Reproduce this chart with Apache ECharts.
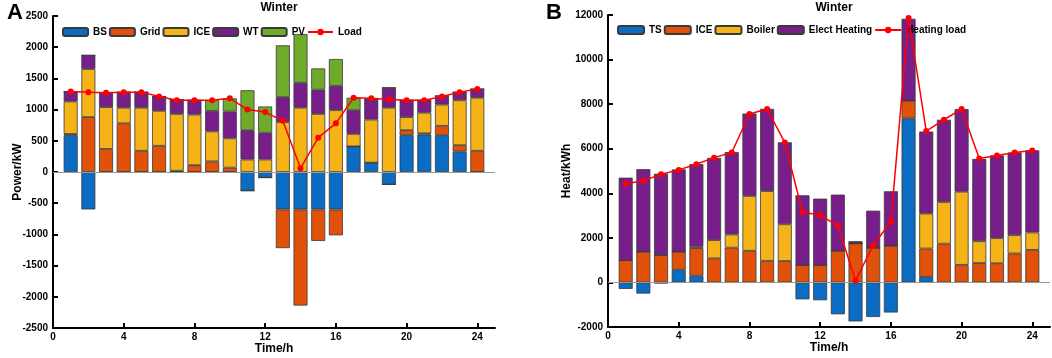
<!DOCTYPE html>
<html>
<head>
<meta charset="utf-8">
<script src="https://cdn.jsdelivr.net/npm/echarts@6/dist/echarts.min.js"></script>
<style>
  html, body { margin: 0; padding: 0; background: #fff; }
  #chart { width: 1052px; height: 358px; }
</style>
</head>
<body>
<div id="chart"></div>
<script>
// hours 1..24; the time axis runs 0..25
const hourSlots = ['0', '1', '2', '3', '4', '5', '6', '7', '8', '9', '10', '11', '12', '13', '14', '15', '16', '17', '18', '19', '20', '21', '22', '23', '24', '25']
const xTicks = ['0', '4', '8', '12', '16', '20', '24']

// A: power balance (kW), hours 1..24
const bsPower = [590, -600, 0, 0, 0, 0, 0, 0, 0, 0, -300, -90, -600, -600, -600, -600, 410, 150, -200, 590, 600, 590, 330, 0]
const gridPower = [20, 880, 370, 780, 340, 420, 20, 110, 170, 70, 0, 0, -620, -1540, -505, -415, 0, 0, 0, 80, 20, 150, 100, 340]
const icePower = [520, 770, 670, 250, 690, 560, 910, 810, 480, 470, 200, 200, 800, 1030, 930, 990, 200, 690, 1030, 210, 330, 340, 720, 850]
const wtPower = [160, 220, 230, 250, 250, 230, 230, 230, 330, 430, 470, 430, 400, 400, 390, 390, 380, 330, 320, 270, 200, 140, 130, 140]
const pvPower = [0, 0, 0, 0, 0, 0, 0, 0, 170, 210, 640, 420, 830, 780, 340, 430, 200, 0, 0, 0, 0, 0, 0, 0]
const loadPower = [1290, 1280, 1270, 1280, 1280, 1210, 1150, 1150, 1150, 1180, 1000, 960, 820, 60, 550, 780, 1190, 1180, 1160, 1150, 1150, 1210, 1280, 1330]

// B: heat balance (kWh), hours 1..24
const tsHeat = [-290, -500, -50, 570, 300, 0, 0, 0, 0, 0, -760, -800, -1430, -1750, -1550, -1350, 7360, 250, 0, 0, 0, 0, 0, 0]
const iceHeat = [1000, 1380, 1230, 810, 1240, 1080, 1560, 1420, 970, 960, 780, 780, 1420, 1750, 1550, 1650, 800, 1270, 1740, 790, 870, 860, 1300, 1460]
const boilerHeat = [0, 0, 0, 0, 60, 820, 590, 2460, 3130, 1650, 0, 0, 0, 0, 0, 0, 0, 1570, 1870, 3280, 980, 1130, 820, 780]
const ehHeat = [3700, 3700, 3650, 3690, 3710, 3690, 3700, 3700, 3690, 3680, 3130, 2980, 2520, 100, 1670, 2440, 3670, 3680, 3690, 3710, 3690, 3710, 3710, 3690]
const loadHeat = [4430, 4560, 4850, 5050, 5300, 5600, 5830, 7560, 7780, 6280, 3160, 3010, 2550, 80, 1670, 2720, 11860, 6790, 7300, 7780, 5560, 5700, 5830, 5920]

const C = {
    blue: '#0B6CC4',
    orange: '#E2510A',
    yellow: '#F5B318',
    purple: '#781E8A',
    green: '#6FAA2A',
    red: '#FF0000'
}

const FONT = 'Liberation Sans, Arial'

// slot 0 and slot 25 stay empty
const pad = (arr) => [null].concat(arr, [null])

const axisFont = { color: '#000', fontWeight: 'bold', fontSize: 10, fontFamily: FONT }
const showTick = (i, v) => xTicks.includes(v)

const makeX = (gridIndex) => ({
    type: 'category',
    gridIndex,
    data: hourSlots,
    boundaryGap: false,
    name: 'Time/h',
    nameLocation: 'middle',
    nameGap: 15,
    nameMoveOverlap: false,
    nameTextStyle: Object.assign({}, axisFont, { fontSize: 12 }),
    axisLine: { onZero: false, lineStyle: { color: '#000', width: 2 } },
    axisTick: { show: true, inside: true, length: 5, interval: showTick, lineStyle: { color: '#000', width: 2 } },
    axisLabel: Object.assign({}, axisFont, { margin: 4, interval: showTick }),
    splitLine: { show: false }
})

const makeY = (gridIndex, min, max, interval, name, gap) => ({
    type: 'value',
    gridIndex,
    min, max, interval,
    name,
    nameLocation: 'middle',
    nameGap: gap,
    nameMoveOverlap: false,
    nameTextStyle: Object.assign({}, axisFont, { fontSize: 12 }),
    axisLine: { show: true, lineStyle: { color: '#000', width: 2 } },
    axisTick: { show: true, inside: true, length: 5, lineStyle: { color: '#000', width: 2 } },
    axisLabel: Object.assign({}, axisFont, { margin: 5, formatter: (v) => String(v) }),
    splitLine: { show: false }
})

const barSeries = (name, data, color, idx, stack) => ({
    name,
    type: 'bar',
    xAxisIndex: idx,
    yAxisIndex: idx,
    stack,
    barWidth: 14,
    data: pad(data),
    itemStyle: { color, borderColor: '#3a3a3a', borderWidth: 0.8 },
    emphasis: { disabled: true }
})

const lineSeries = (name, data, idx) => ({
    name,
    type: 'line',
    xAxisIndex: idx,
    yAxisIndex: idx,
    data: pad(data),
    symbol: 'circle',
    symbolSize: 6,
    lineStyle: { color: C.red, width: 1.5 },
    itemStyle: { color: C.red },
    z: 5
})

const zeroLine = {
    silent: true,
    symbol: 'none',
    label: { show: false },
    lineStyle: { color: '#999', width: 1, type: 'solid' },
    data: [{ yAxis: 0 }]
}

const chart = echarts.init(document.getElementById('chart'))

const seriesA = [
    barSeries('BS', bsPower, C.blue, 0, 'a'),
    barSeries('Grid', gridPower, C.orange, 0, 'a'),
    barSeries('ICE', icePower, C.yellow, 0, 'a'),
    barSeries('WT', wtPower, C.purple, 0, 'a'),
    barSeries('PV', pvPower, C.green, 0, 'a'),
    lineSeries('Load', loadPower, 0)
]
seriesA[0].markLine = zeroLine

const seriesB = [
    barSeries('TS', tsHeat, C.blue, 1, 'b'),
    barSeries('ICE ', iceHeat, C.orange, 1, 'b'),
    barSeries('Boiler', boilerHeat, C.yellow, 1, 'b'),
    barSeries('Elect Heating', ehHeat, C.purple, 1, 'b'),
    lineSeries('Heating load', loadHeat, 1)
]
seriesB[0].markLine = zeroLine

const legendText = { color: '#000', fontWeight: 'bold', fontSize: 10, fontFamily: FONT }
const bigLetter = { fontSize: 22, fontWeight: 'bold', color: '#000', fontFamily: FONT }
const winter = { fontSize: 12, fontWeight: 'bold', color: '#000', fontFamily: FONT }

chart.setOption({
    animation: false,
    title: [
        { text: 'A', left: 2, top: -3, textStyle: bigLetter },
        { text: 'B', left: 541, top: -3, textStyle: bigLetter },
        { text: 'Winter', left: 274, top: -3, textAlign: 'center', textStyle: winter },
        { text: 'Winter', left: 829, top: -3, textAlign: 'center', textStyle: winter }
    ],
    legend: [
        {
            left: 62, top: 27, padding: 0,
            itemWidth: 25, itemHeight: 8, itemGap: 2,
            textStyle: legendText,
            data: ['BS', 'Grid', 'ICE', 'WT', 'PV', 'Load']
        },
        {
            left: 617, top: 25, padding: 0,
            itemWidth: 26, itemHeight: 8, itemGap: 2,
            textStyle: legendText,
            formatter: (n) => n.trim(),
            data: ['TS', 'ICE ', 'Boiler', 'Elect Heating', 'Heating load']
        }
    ],
    grid: [
        { left: 53, width: 442, top: 16, height: 312, outerBoundsMode: 'none' },
        { left: 608, width: 442, top: 15, height: 312, outerBoundsMode: 'none' }
    ],
    xAxis: [makeX(0), makeX(1)],
    yAxis: [
        makeY(0, -2500, 2500, 500, 'Power/kW', 29),
        makeY(1, -2000, 12000, 2000, 'Heat/kWh', 35)
    ],
    series: seriesA.concat(seriesB)
})
</script>
</body>
</html>
